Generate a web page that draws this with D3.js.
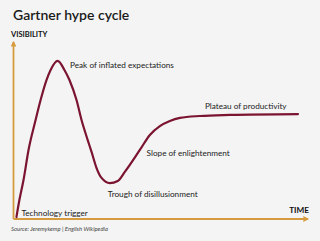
<!DOCTYPE html>
<html>
<head>
<meta charset="utf-8">
<script src="https://cdn.jsdelivr.net/npm/d3@7"></script>
<style>
  html, body { margin: 0; padding: 0; background: #f4f4f4; }
  svg { display: block; font-family: Lato, "Open Sans", sans-serif; }
</style>
</head>
<body>
<div id="chart"></div>
<script>
/**
 * DATA (time / visibility)
 * */
const timeValues = [1.0, 2.0, 3.4, 5.1, 7.5, 9.2, 11.2, 12.6, 15.0, 17.3, 19.0, 21.4, 23.1,
  25.2, 26.5, 28.2, 29.9, 32.7, 35.4, 37.8, 42.9, 46.3, 49.7, 53.1, 56.5, 63.3, 73.5, 96.6];
const visibilityValues = [1.1, 10.7, 22.0, 39.0, 55.9, 67.2, 78.5, 84.2, 89.3, 84.2, 78.5, 67.2, 55.9,
  44.6, 37.9, 28.8, 23.2, 20.3, 21.5, 26.6, 39.0, 47.5, 52.5, 55.4, 57.1, 58.2, 58.8, 59.3];

// phase labels and where they sit (time, visibility)
const phaseLabels = ["Technology trigger", "Peak of inflated expectations", "Trough of disillusionment",
  "Slope of enlightenment", "Plateau of productivity"];
const phaseTime = [2.7, 19.2, 32.0, 45.2, 65.0];
const phaseVisibility = [1.7, 85.3, 12.4, 35.6, 62.1];

const title = "Gartner hype cycle";
const source = "Source: Jeremykemp | English Wikipedia";

/**
 * CONSTANTS
 * */
const width = 320,
  height = 241,
  margin = { top: 42, bottom: 22, left: 13.5, right: 12 };

const axisColor = "#d69b3e",
  curveColor = "#7b1431",
  textColor = "#222";

const svg = d3.select("#chart")
  .append("svg")
  .attr("width", width)
  .attr("height", height);

const x = d3.scaleLinear()
  .domain([0, 100])
  .range([margin.left, width - margin.right]);

const y = d3.scaleLinear()
  .domain([0, 100])
  .range([height - margin.bottom, margin.top]);

// arrow head
svg.append("defs")
  .append("marker")
  .attr("id", "arrow")
  .attr("viewBox", "0 0 10 10")
  .attr("refX", 8)
  .attr("refY", 5)
  .attr("markerWidth", 3.2)
  .attr("markerHeight", 3.2)
  .attr("orient", "auto")
  .append("path")
  .attr("d", "M0,0L10,5L0,10z")
  .attr("fill", axisColor);

// axes (no ticks, just arrows)
svg.append("line")
  .attr("x1", x(0)).attr("y1", y(0))
  .attr("x2", x(100)).attr("y2", y(0))
  .attr("stroke", axisColor)
  .attr("stroke-width", 1.8)
  .attr("marker-end", "url(#arrow)");

svg.append("line")
  .attr("x1", x(0)).attr("y1", y(0))
  .attr("x2", x(0)).attr("y2", y(100))
  .attr("stroke", axisColor)
  .attr("stroke-width", 1.8)
  .attr("marker-end", "url(#arrow)");

// the hype curve
const points = timeValues.map((t, i) => [t, visibilityValues[i]]);

const line = d3.line()
  .x(d => x(d[0]))
  .y(d => y(d[1]))
  .curve(d3.curveMonotoneX);

svg.append("path")
  .datum(points)
  .attr("d", line)
  .attr("fill", "none")
  .attr("stroke", curveColor)
  .attr("stroke-width", 2.2)
  .attr("stroke-linecap", "round");

// phase labels
svg.selectAll("text.phase")
  .data(phaseLabels)
  .join("text")
  .attr("class", "phase")
  .attr("x", (d, i) => x(phaseTime[i]))
  .attr("y", (d, i) => y(phaseVisibility[i]))
  .attr("fill", textColor)
  .attr("font-size", 8.2)
  .text(d => d);

// title + axis names
svg.append("text")
  .attr("x", 13)
  .attr("y", 20)
  .attr("fill", "#1a1a1a")
  .attr("font-size", 14)
  .attr("font-weight", 600)
  .text(title);

svg.append("text")
  .attr("x", 11)
  .attr("y", 37)
  .attr("fill", "#111")
  .attr("font-size", 7.5)
  .attr("font-weight", 700)
  .text("VISIBILITY");

svg.append("text")
  .attr("x", 309)
  .attr("y", 213)
  .attr("text-anchor", "end")
  .attr("fill", "#111")
  .attr("font-size", 8.2)
  .attr("font-weight", 700)
  .text("TIME");

svg.append("text")
  .attr("x", 11)
  .attr("y", 231)
  .attr("fill", "#444")
  .attr("font-size", 5.9)
  .attr("font-style", "italic")
  .text(source);
</script>
</body>
</html>
